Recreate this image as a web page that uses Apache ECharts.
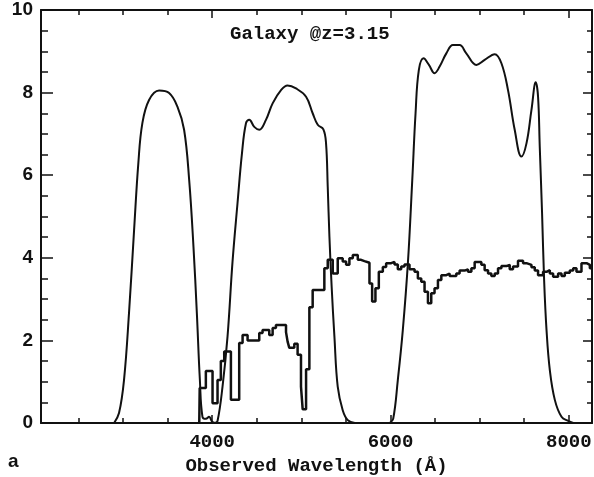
<!DOCTYPE html>
<html>
<head>
<meta charset="utf-8">
<script src="https://cdn.jsdelivr.net/npm/echarts@6/dist/echarts.min.js"></script>
<style>
  html, body { margin: 0; padding: 0; background: #fff; }
  #chart { width: 594px; height: 477px; }
</style>
</head>
<body>
<div id="chart"></div>
<script>
// filter transmission curves [wavelength, value]
var filterU = [[2900,0],[2955,0.24],[3011,1.04],[3067,2.66],[3124,4.67],[3172,6.3],[3217,7.26],[3292,7.82],[3404,8.05],[3517,7.99],[3610,7.66],[3685,7.1],[3742,5.88],[3790,4.27],[3828,2.66],[3862,1.04],[3891,0.15],[3930,0.1],[3965,0.15],[4000,0.03],[4030,0]];
var filterG = [[4030,0],[4060,0.05],[4116,0.88],[4172,2.09],[4228,3.9],[4284,5.32],[4334,6.53],[4379,7.26],[4416,7.34],[4472,7.17],[4528,7.1],[4603,7.34],[4678,7.74],[4772,8.06],[4846,8.17],[4940,8.1],[5053,7.9],[5127,7.5],[5184,7.22],[5247,7.11],[5277,6.77],[5296,5.72],[5315,4.51],[5340,3.3],[5371,2.09],[5408,0.88],[5464,0.31],[5521,0.07],[5600,0]];
var filterR = [[5990,0],[6030,0.1],[6082,1.04],[6138,2.25],[6195,3.87],[6244,5.88],[6281,7.5],[6318,8.55],[6371,8.83],[6431,8.67],[6494,8.47],[6551,8.63],[6626,8.95],[6700,9.15],[6775,9.15],[6850,8.95],[6963,8.67],[7056,8.79],[7169,8.93],[7244,8.71],[7318,8.06],[7393,7.1],[7468,6.45],[7525,6.77],[7581,7.58],[7629,8.25],[7655,7.9],[7674,6.69],[7700,5.08],[7723,3.46],[7750,2.25],[7787,1.28],[7843,0.56],[7918,0.15],[7993,0.05],[8050,0]];

// galaxy spectrum, binned: [bin start, value]
var spectrum = [[3855,0],[3860,0.85],[3929,1.26],[4004,0.48],[4060,1.04],[4097,1.5],[4135,1.73],[4210,0.56],[4303,1.94],[4341,2.13],[4397,2.0],[4528,2.18],[4565,2.25],[4640,2.13],[4678,2.3],[4715,2.37],[4828,2.2],[4846,1.97],[4865,1.82],[4921,1.92],[4958,1.65],[4996,0.88],[5015,0.33],[5053,1.3],[5090,2.8],[5127,3.22],[5258,3.75],[5296,3.95],[5352,3.62],[5408,3.99],[5464,3.91],[5502,3.83],[5539,3.99],[5577,4.07],[5633,3.95],[5670,3.92],[5708,3.88],[5764,3.38],[5794,2.94],[5831,3.26],[5869,3.66],[5914,3.78],[5951,3.87],[6008,3.9],[6045,3.84],[6082,3.72],[6120,3.79],[6157,3.84],[6213,3.72],[6270,3.66],[6307,3.5],[6345,3.42],[6382,3.18],[6420,2.9],[6457,3.14],[6494,3.26],[6532,3.46],[6570,3.58],[6626,3.62],[6663,3.56],[6738,3.62],[6775,3.69],[6831,3.72],[6869,3.66],[6907,3.75],[6944,3.9],[7019,3.83],[7056,3.7],[7094,3.62],[7131,3.56],[7169,3.62],[7206,3.75],[7244,3.8],[7300,3.83],[7337,3.72],[7374,3.79],[7430,3.93],[7487,3.87],[7525,3.83],[7581,3.77],[7618,3.69],[7655,3.58],[7711,3.66],[7750,3.7],[7787,3.62],[7824,3.54],[7880,3.62],[7918,3.56],[7955,3.64],[8011,3.69],[8049,3.75],[8086,3.66],[8142,3.87],[8199,3.83],[8236,3.75],[8260,3.75]];

// ticks
var xMinorTicks = [2500,3000,3500,4000,4500,5000,5500,6000,6500,7000,7500,8000];
var xLabels = [4000,6000,8000];
var titleText = 'Galaxy @z=3.15';
var xName = 'Observed Wavelength (Å)';

var ink = '#111';
var mono = '"Liberation Mono", "DejaVu Sans Mono", monospace';

function xAx(pos, ticks, len, withLine, withLabel) {
  return {
    type: 'value', position: pos, min: 2080, max: 8260,
    axisLine: { show: withLine, onZero: false, lineStyle: { color: ink, width: 2 } },
    axisTick: { show: true, inside: true, length: len, customValues: ticks, lineStyle: { color: ink, width: 1.5 } },
    axisLabel: withLabel ? { show: true, customValues: xLabels, margin: 10, color: ink,
      formatter: function (v) { return String(v); },
      fontFamily: mono, fontWeight: 'bold', fontSize: 19 } : { show: false },
    splitLine: { show: false }
  };
}

function yAx(pos, len, withLabel) {
  return {
    type: 'value', position: pos, min: 0, max: 10, interval: 2,
    axisLine: { show: true, lineStyle: { color: ink, width: 2 } },
    axisTick: { show: true, inside: true, length: len, lineStyle: { color: ink, width: 1.5 } },
    minorTick: { show: true, splitNumber: 4, length: Math.round(len * 0.55), lineStyle: { color: ink, width: 1.5 } },
    axisLabel: withLabel ? { show: true, margin: 8, color: ink, fontFamily: 'Liberation Sans, Arial, sans-serif',
      fontWeight: 'bold', fontSize: 19 } : { show: false },
    splitLine: { show: false }
  };
}

var bottom = xAx('bottom', xMinorTicks, 5, true, true);
bottom.name = xName;
bottom.nameLocation = 'middle';
bottom.nameGap = 30;
bottom.nameTextStyle = { color: ink, fontFamily: mono, fontWeight: 'bold', fontSize: 19 };

var chart = echarts.init(document.getElementById('chart'));
chart.setOption({
  animation: false,
  backgroundColor: '#fff',
  title: {
    text: titleText, left: 225, top: 20,
    textStyle: { color: ink, fontFamily: mono, fontWeight: 'bold', fontSize: 19 }
  },
  grid: { left: 41, right: 2, top: 10, bottom: 54, containLabel: false, outerBoundsMode: 'none' },
  xAxis: [
    bottom,
    xAx('top', xMinorTicks, 5, true, false),
    xAx('bottom', xLabels, 8, false, false),
    xAx('top', xLabels, 8, false, false)
  ],
  yAxis: [yAx('left', 12, true), yAx('right', 9, false)],
  graphic: [{
    type: 'text', left: 8, top: 452,
    style: { text: 'a', fill: ink, font: 'bold 19px "Liberation Sans", Arial, sans-serif' }
  }],
  series: [
    { type: 'line', data: filterU, smooth: 0.4, showSymbol: false, lineStyle: { color: ink, width: 2 } },
    { type: 'line', data: filterG, smooth: 0.4, showSymbol: false, lineStyle: { color: ink, width: 2 } },
    { type: 'line', data: filterR, smooth: 0.4, showSymbol: false, lineStyle: { color: ink, width: 2 } },
    { type: 'line', data: spectrum, step: 'end', showSymbol: false, lineStyle: { color: ink, width: 2.5 } }
  ]
});
</script>
</body>
</html>
